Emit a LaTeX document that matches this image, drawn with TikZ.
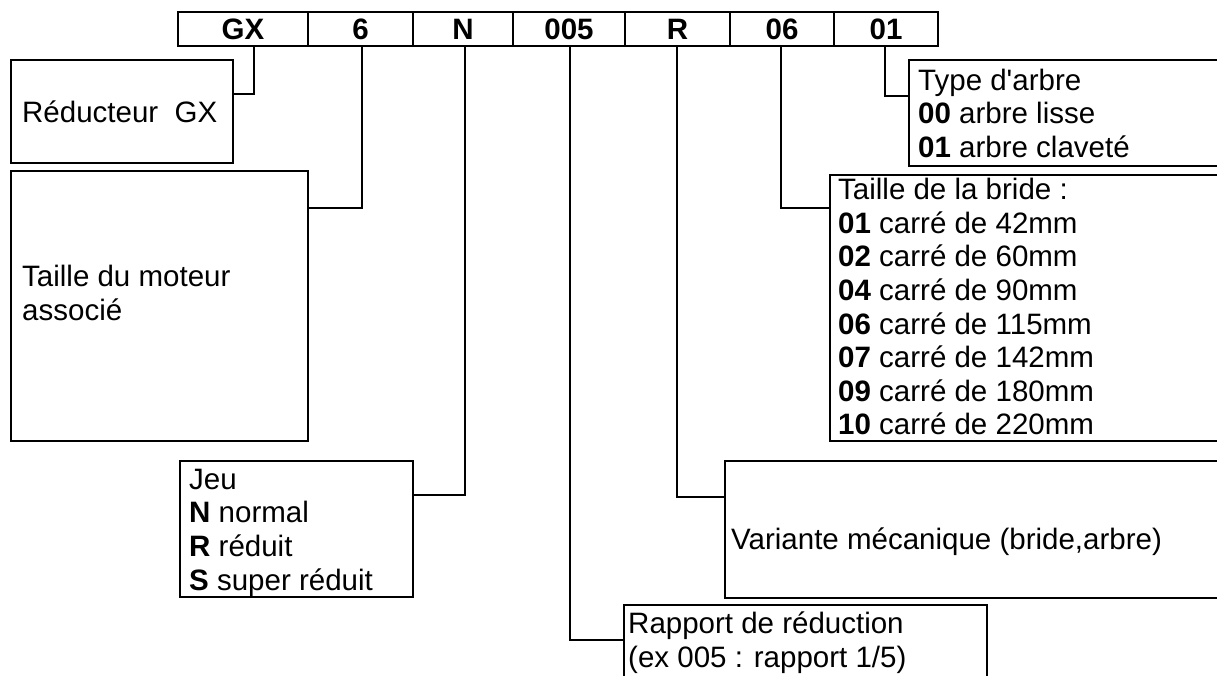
\documentclass[tikz,border=0pt]{standalone}
\usepackage{fontspec}
\setmainfont{Liberation Sans}
\begin{document}
\begin{tikzpicture}[x=1pt,y=-1pt,
  box/.style={draw,line width=2pt,rectangle,inner sep=0pt},
  cell/.style={draw,line width=2pt,rectangle,inner sep=0pt,minimum height=34pt,
    font=\fontsize{29.5}{30}\selectfont\bfseries},
  txt/.style={anchor=north west,inner sep=0pt,align=left,
    font=\fontsize{29.5}{33.6}\selectfont},
  conn/.style={line width=2pt}]
\useasboundingbox (0,0) rectangle (1217,675);
\clip (0,0) rectangle (1217,675);
% top code row
\node[cell,minimum width=130pt] (c1) at (243,29) {GX};
\node[cell,minimum width=105pt] (c2) at (360.5,29) {6};
\node[cell,minimum width=100pt] (c3) at (463,29) {N};
\node[cell,minimum width=112pt] (c4) at (569,29) {005};
\node[cell,minimum width=105pt] (c5) at (677.5,29) {R};
\node[cell,minimum width=104pt] (c6) at (782,29) {06};
\node[cell,minimum width=104pt] (c7) at (886,29) {01};
% boxes
\node[box,minimum width=222pt,minimum height=103pt] (rd) at (122,111.5) {};
\node[box,minimum width=297pt,minimum height=270pt] (mt) at (159.5,306) {};
\node[box,minimum width=233pt,minimum height=136pt] (jeu) at (296.5,529) {};
\node[box,minimum width=331pt,minimum height=106pt] (ty) at (1074.5,113) {};
\node[box,minimum width=410pt,minimum height=266pt] (br) at (1035,308) {};
\node[box,minimum width=515pt,minimum height=137pt] (va) at (982.5,529.5) {};
\node[box,minimum width=363pt,minimum height=95pt] (ra) at (805.5,652.5) {};
% texts
\node[txt] (trd) at (22,99) {\strut Réducteur~~GX};
\node[txt] (tmt) at (22,263) {\strut Taille du moteur\\\strut associé};
\node[txt] (tjeu) at (189,465.5) {\strut Jeu\\\strut\textbf{N} normal\\\strut\textbf{R} réduit\\\strut\textbf{S} super réduit};
\node[txt] (tty) at (918,66.5) {\strut Type d\textquotesingle arbre\\\strut\textbf{00} arbre lisse\\\strut\textbf{01} arbre claveté};
\node[txt] (tbr) at (838,176) {\strut Taille de la bride :\\
\strut\textbf{01} carré de 42mm\\
\strut\textbf{02} carré de 60mm\\
\strut\textbf{04} carré de 90mm\\
\strut\textbf{06} carré de 115mm\\
\strut\textbf{07} carré de 142mm\\
\strut\textbf{09} carré de 180mm\\
\strut\textbf{10} carré de 220mm};
\node[txt] (tva) at (731,526) {\strut Variante mécanique (bride,arbre)};
\node[txt] (tra) at (628,610) {\strut Rapport de réduction\\\strut(ex 005 : rapport 1/5)};
% connector start points
\coordinate (k1) at (254,46);
\coordinate (k2) at (362,46);
\coordinate (k3) at (465,46);
\coordinate (k4) at (570,46);
\coordinate (k5) at (677,46);
\coordinate (k6) at (781,46);
\coordinate (k7) at (885,46);
\draw[conn] (k1) |- (rd.east |- 0,94);
\draw[conn] (k2) |- (mt.east |- 0,208);
\draw[conn] (k3) |- (jeu.east |- 0,495);
\draw[conn] (k4) |- (ra.west |- 0,640);
\draw[conn] (k5) |- (va.west |- 0,497);
\draw[conn] (k6) |- (br.west |- 0,208);
\draw[conn] (k7) |- (ty.west |- 0,96);
\end{tikzpicture}
\end{document}
